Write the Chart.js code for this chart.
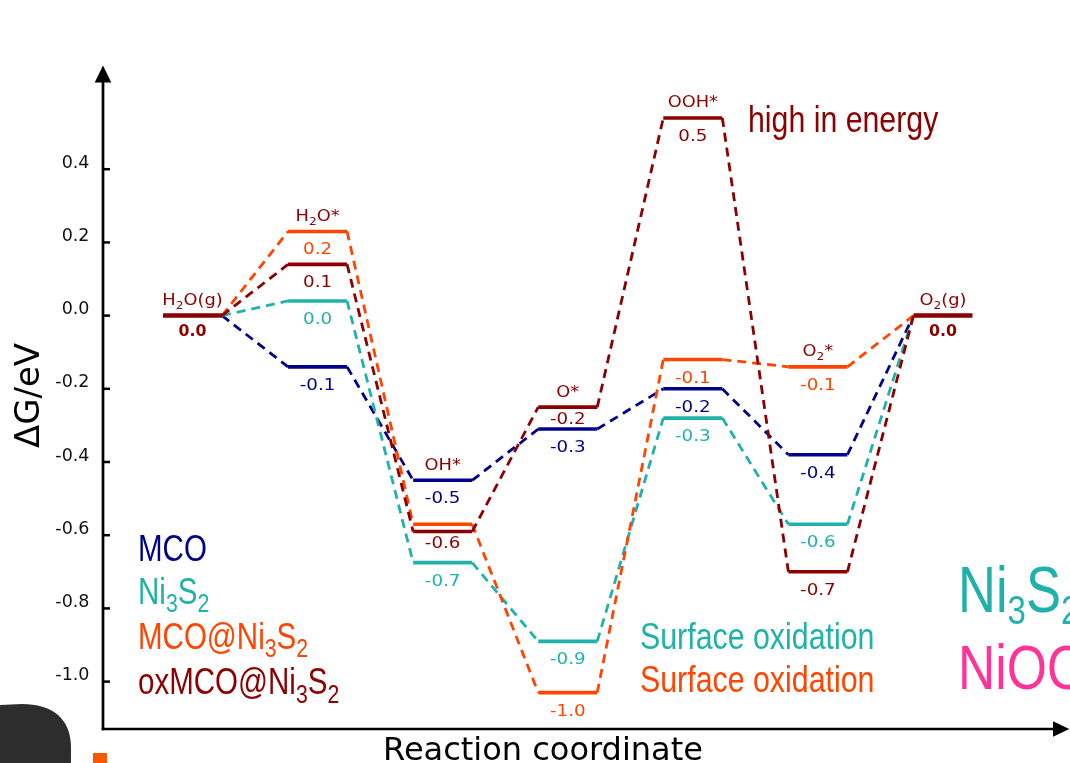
<!DOCTYPE html>
<html><head><meta charset="utf-8">
<script src="https://cdn.jsdelivr.net/npm/chart.js@4"></script>
<style>html,body{margin:0;padding:0;background:#fff;overflow:hidden}canvas{display:block}</style>
</head><body>
<canvas id="c" width="1070" height="763"></canvas>
<script>
// ---------- data ----------
const steps     = ['H_2O(g)','H_2O*','OH*','O*','OOH*','O_2*','O_2(g)'];
const mcoVals   = [0, -0.14, -0.45,  -0.31, -0.20, -0.38, 0];
const ni3s2Vals = [0,  0.04, -0.675, -0.89, -0.28, -0.57, 0];
const mcoNiVals = [0,  0.23, -0.57,  -1.03, -0.12, -0.14, 0];
const oxVals    = [0,  0.14, -0.59,  -0.25,  0.54, -0.70, 0];
const mcoText   = [null,'-0.1','-0.5','-0.3','-0.2','-0.4',null];
const ni3s2Text = [null,'0.0','-0.7','-0.9','-0.3','-0.6',null];
const mcoNiText = [null,'0.2',null,'-1.0','-0.1','-0.1',null];
const oxText    = [null,'0.1','-0.6','-0.2','0.5','-0.7',null];
const gasVals   = [0, null, null, null, null, null, 0];
const gasText   = ['0.0',null,null,null,null,null,'0.0'];
const yTicks    = [0.4, 0.2, 0.0, -0.2, -0.4, -0.6, -0.8, -1.0];
const seriesNames = ['MCO','Ni_3S_2','MCO@Ni_3S_2','oxMCO@Ni_3S_2'];
const noteText  = 'high in energy';
const oxidationText = 'Surface oxidation';
const sideTexts = ['Ni_3S_2','NiOOH'];
const yTitle = 'ΔG/eV';
const xTitle = 'Reaction coordinate';

// ---------- styles ----------
const NAVY='#00008B', TEAL='#20B2AA', ORANGE='#FF4500', DRED='#8B0000', PINK='#FF3399';
const HW = 0.236;           // half width of a level, in step units
const DEJAVU = '"DejaVu Sans", Verdana, sans-serif';

const series = [
  {name: seriesNames[3], vals: oxVals,    text: oxText,    color: DRED},
  {name: seriesNames[2], vals: mcoNiVals, text: mcoNiText, color: ORANGE},
  {name: seriesNames[1], vals: ni3s2Vals, text: ni3s2Text, color: TEAL},
  {name: seriesNames[0], vals: mcoVals,   text: mcoText,   color: NAVY},
];

// narrow font detection
const NARROW = (function(){
  const c=document.createElement('canvas').getContext('2d');
  c.font='40px monospace'; const a=c.measureText('MCO@Ni high energy').width;
  c.font='40px "Liberation Sans Narrow", monospace'; const b=c.measureText('MCO@Ni high energy').width;
  return (a!==b) ? {family:'"Liberation Sans Narrow", "Arial Narrow", sans-serif', sx:1}
                 : {family:'"Liberation Sans", Arial, sans-serif', sx:0.82};
})();

function levelPoints(vals){
  const n=vals.length;
  const pts=[{x:HW, y:vals[0]}];
  for(let i=1;i<n-1;i++){ pts.push({x:i-HW,y:vals[i]},{x:i+HW,y:vals[i]}); }
  pts.push({x:n-1-HW, y:vals[n-1]});
  return pts;
}
function gasPoints(vals){
  const pts=[];
  vals.forEach((v,i)=>{ if(v!==null){ if(pts.length) pts.push({x:i-0.5,y:null}); pts.push({x:i-HW,y:v},{x:i+HW,y:v}); } });
  return pts;
}
const isLevel = ctx => ctx.p0DataIndex % 2 === 1;

function parseRich(s){
  const parts=[]; let buf='';
  for(let i=0;i<s.length;i++){
    if(s[i]==='_'){ if(buf){parts.push({t:buf});buf='';} parts.push({t:s[i+1],sub:true}); i++; }
    else buf+=s[i];
  }
  if(buf) parts.push({t:buf});
  return parts;
}
function drawRich(ctx, s, x, y, o){
  const parts=parseRich(s);
  const wt=o.weight||'normal';
  const fMain=`${wt} ${o.size}px ${o.family}`;
  const fSub=`${wt} ${o.size*(o.subScale||0.7)}px ${o.family}`;
  let w=0;
  for(const p of parts){ ctx.font=p.sub?fSub:fMain; p.w=ctx.measureText(p.t).width; w+=p.w; }
  const sx=o.sx||1;
  const x0 = o.align==='center' ? x-w*sx/2 : (o.align==='right' ? x-w*sx : x);
  ctx.save();
  ctx.fillStyle=o.color; ctx.textBaseline='alphabetic'; ctx.textAlign='left';
  ctx.translate(x0,y); ctx.scale(sx,1);
  let cx=0;
  for(const p of parts){ ctx.font=p.sub?fSub:fMain; ctx.fillText(p.t,cx,p.sub?(o.subDrop||o.size*0.25):0); cx+=p.w; }
  ctx.restore();
}

const labelPlugin = {
  id:'labels',
  afterDatasetsDraw(chart){
    const ctx=chart.ctx, xs=chart.scales.x, ys=chart.scales.y;
    const valOpt={size:16, family:DEJAVU, sx:1.14, align:'center'};
    // value labels
    series.forEach(s=>{
      s.text.forEach((t,i)=>{
        if(t===null) return;
        const v=s.vals[i];
        let crowded=false;
        series.forEach(o=>{ if(o===s) return; const w=o.vals[i];
          if((v-w)>0 && (v-w)<=0.07) crowded=true;
          if((w-v)>0 && (w-v)<=0.03) crowded=true; });
        const py=ys.getPixelForValue(v)+(crowded?16.5:23);
        drawRich(ctx,t,xs.getPixelForValue(i),py,Object.assign({color:s.color},valOpt));
      });
    });
    // gas labels (bold)
    gasText.forEach((t,i)=>{
      if(t===null) return;
      drawRich(ctx,t,xs.getPixelForValue(i),ys.getPixelForValue(gasVals[i])+20.5,
        {size:15.5,family:DEJAVU,weight:'bold',sx:1.02,align:'center',color:DRED});
    });
    // step names, above the highest level
    steps.forEach((name,i)=>{
      let top=-Infinity;
      series.forEach(s=>{ if(s.vals[i]>top) top=s.vals[i]; });
      if(gasVals[i]!==null && gasVals[i]>top) top=gasVals[i];
      drawRich(ctx,name,xs.getPixelForValue(i),ys.getPixelForValue(top)-10.5,
        {size:15.5,family:DEJAVU,sx:1.15,align:'center',color:DRED,subScale:0.68,subDrop:4});
    });
  },
  afterDraw(chart){
    const ctx=chart.ctx, a=chart.chartArea, ys=chart.scales.y;
    const L=a.left, B=a.bottom;
    ctx.save();
    ctx.strokeStyle='#000'; ctx.fillStyle='#000'; ctx.lineWidth=2.7; ctx.lineCap='butt';
    // y axis + arrow
    ctx.beginPath(); ctx.moveTo(L,B+1.3); ctx.lineTo(L,a.top+12); ctx.stroke();
    ctx.beginPath(); ctx.moveTo(L,a.top-0.5); ctx.lineTo(L-8.3,a.top+16.5); ctx.lineTo(L+8.3,a.top+16.5); ctx.closePath(); ctx.fill();
    // x axis + arrow
    ctx.beginPath(); ctx.moveTo(L-1.3,B); ctx.lineTo(a.right-12,B); ctx.stroke();
    ctx.beginPath(); ctx.moveTo(a.right+0.3,B); ctx.lineTo(a.right-16,B-7.8); ctx.lineTo(a.right-16,B+7.8); ctx.closePath(); ctx.fill();
    // tick marks (inside)
    ctx.lineWidth=2.5;
    ys.ticks.forEach(t=>{ const py=ys.getPixelForValue(t.value); ctx.beginPath(); ctx.moveTo(L,py); ctx.lineTo(L+7,py); ctx.stroke(); });
    ctx.restore();

    // axis titles
    ctx.save();
    ctx.fillStyle='#000'; ctx.font=`34px ${DEJAVU}`; ctx.textAlign='center'; ctx.textBaseline='alphabetic';
    ctx.translate(39,395.5); ctx.rotate(-Math.PI/2); ctx.fillText(yTitle,0,0);
    ctx.restore();
    ctx.save();
    ctx.fillStyle='#000'; ctx.font=`32px ${DEJAVU}`; ctx.textAlign='center'; ctx.textBaseline='alphabetic';
    ctx.fillText(xTitle,543,760);
    ctx.restore();

    // legend texts
    const legBase=[561,603.5,648.5,694];
    [...series].reverse().forEach((s,k)=>{
      drawRich(ctx,s.name,138,legBase[k],{size:36,family:NARROW.family,sx:NARROW.sx,align:'left',color:s.color,subScale:0.72,subDrop:8.5});
    });
    // notes
    drawRich(ctx,noteText,748,132,{size:37.5,family:NARROW.family,sx:NARROW.sx*0.985,align:'left',color:DRED});
    drawRich(ctx,oxidationText,640,648.5,{size:37,family:NARROW.family,sx:NARROW.sx,align:'left',color:TEAL});
    drawRich(ctx,oxidationText,640,692,{size:37,family:NARROW.family,sx:NARROW.sx,align:'left',color:ORANGE});
    drawRich(ctx,sideTexts[0],958,612,{size:64,family:NARROW.family,sx:NARROW.sx,align:'left',color:TEAL,subScale:0.63,subDrop:12});
    drawRich(ctx,sideTexts[1],958,688.5,{size:63,family:NARROW.family,sx:NARROW.sx,align:'left',color:PINK});

    // decorative corner shapes
    ctx.save();
    ctx.fillStyle='#2d2d2d';
    ctx.beginPath(); ctx.moveTo(0,763); ctx.lineTo(0,705); ctx.lineTo(22,704);
    ctx.bezierCurveTo(52,704,71,718,71,748); ctx.lineTo(71,763); ctx.closePath(); ctx.fill();
    ctx.fillStyle='#FF5500'; ctx.fillRect(93,753,14,10);
    ctx.restore();
  }
};

const datasets=[{
  data: gasPoints(gasVals), borderColor: DRED, borderWidth: 4.5, pointRadius:0, spanGaps:false, tension:0
}].concat(series.map(s=>({
  data: levelPoints(s.vals), borderColor: s.color, pointRadius:0, tension:0, borderWidth:2.8,
  segment:{
    borderDash: ctx => isLevel(ctx) ? [] : [9,6],
    borderWidth: ctx => isLevel(ctx) ? 3.6 : 2.8
  }
})));

new Chart(document.getElementById('c'), {
  type:'line',
  data:{datasets},
  options:{
    responsive:false, animation:false, devicePixelRatio:1,
    layout:{padding:{left:0, top:66, right:1, bottom:34}},
    plugins:{legend:{display:false}, tooltip:{enabled:false}},
    scales:{
      x:{type:'linear', display:false, min:-0.7155, max:7.0075},
      y:{type:'linear', min:-1.1295, max:0.682,
         afterFit:(s)=>{ s.width=103; },
         afterBuildTicks:(s)=>{ s.ticks=yTicks.map(v=>({value:v})); },
         grid:{display:false, drawTicks:false}, border:{display:false},
         ticks:{color:'#111', font:{family:'DejaVu Sans', size:17.5}, padding:13.5, labelOffset:-6,
                autoSkip:false, callback:(v)=>Number(v).toFixed(1)}
      }
    }
  },
  plugins:[labelPlugin]
});
</script>
</body></html>
